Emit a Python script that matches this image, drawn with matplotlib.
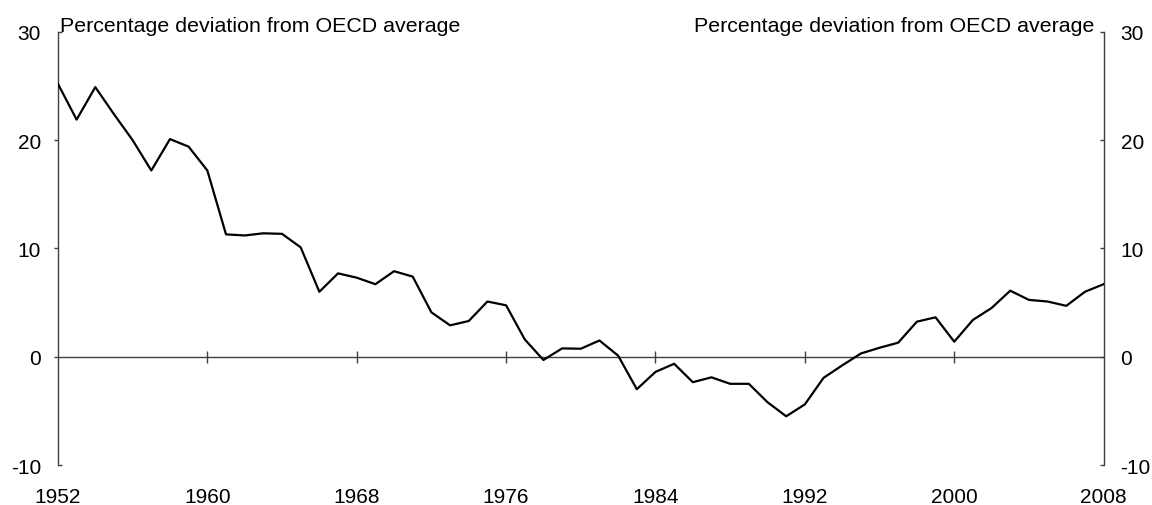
import matplotlib.pyplot as plt
from matplotlib.ticker import FixedLocator


# ==========================
# Data
# ==========================

years = list(range(1952, 2009))

deviation = [
    25.2, 21.9, 24.9, 22.4, 20.0, 17.2, 20.1, 19.4, 17.2, 11.3,
    11.2, 11.4, 11.35, 10.1, 6.0, 7.7, 7.3, 6.7, 7.9, 7.4,
    4.1, 2.9, 3.3, 5.1, 4.75, 1.6, -0.3, 0.77, 0.74, 1.5,
    0.1, -3.0, -1.4, -0.65, -2.35, -1.9, -2.5, -2.5, -4.2, -5.5,
    -4.4, -1.95, -0.8, 0.3, 0.83, 1.3, 3.24, 3.64, 1.39, 3.4,
    4.5, 6.1, 5.25, 5.1, 4.7, 6.0, 6.7
]

x_ticks = [1952, 1960, 1968, 1976, 1984, 1992, 2000, 2008]
y_ticks = [-10, 0, 10, 20, 30]

header = "Percentage deviation from OECD average"


# ==========================
# Style
# ==========================

plt.rcParams["font.family"] = ["Liberation Sans", "DejaVu Sans"]
plt.rcParams["font.size"] = 15
plt.rcParams["axes.unicode_minus"] = False

axis_color = "#404040"


# ==========================
# Figure
# ==========================

fig = plt.figure(figsize=(11.52, 5.06), dpi=100)

ax = fig.add_axes([0.0503, 0.079, 0.9077, 0.856])

ax.plot(years, deviation, color="black", linewidth=1.6, zorder=3)

ax.set_xlim(1952, 2008)
ax.set_ylim(-10, 30)


# Spines
ax.spines["top"].set_visible(False)
ax.spines["bottom"].set_position(("data", 0))
for side in ["left", "right", "bottom"]:
    ax.spines[side].set_color(axis_color)
    ax.spines[side].set_linewidth(1.0)


# x ticks cross the zero line, labels sit at the bottom
ax.xaxis.set_major_locator(FixedLocator(x_ticks[1:-1]))
ax.tick_params(
    axis="x",
    direction="inout",
    length=8.5,
    width=1.0,
    color=axis_color,
    labelbottom=False
)

sec = ax.secondary_xaxis("bottom")
sec.set_xticks(x_ticks)
sec.spines["bottom"].set_visible(False)
sec.tick_params(axis="x", length=0, pad=16, labelsize=15)


# y ticks on both sides, all pointing left
ax.set_yticks(y_ticks)
ax.tick_params(
    axis="y",
    left=True,
    right=True,
    labelleft=True,
    labelright=True,
    width=1.0,
    length=3.2,
    pad=9,
    color=axis_color,
    labelsize=15
)

major = ax.yaxis.get_major_ticks()
for tick in major:
    tick.tick1line.set_marker(0)
    tick.tick2line.set_marker(0)

# end caps of the left axis point inward
for i in [0, len(major) - 1]:
    major[i].tick1line.set_marker(1)


# ==========================
# Headers
# ==========================

ax.text(
    0.002, 1.003, header,
    transform=ax.transAxes,
    ha="left", va="baseline",
    fontsize=15.4
)

ax.text(
    0.9915, 1.003, header,
    transform=ax.transAxes,
    ha="right", va="baseline",
    fontsize=15.4
)


plt.savefig("out.png", dpi=100)
